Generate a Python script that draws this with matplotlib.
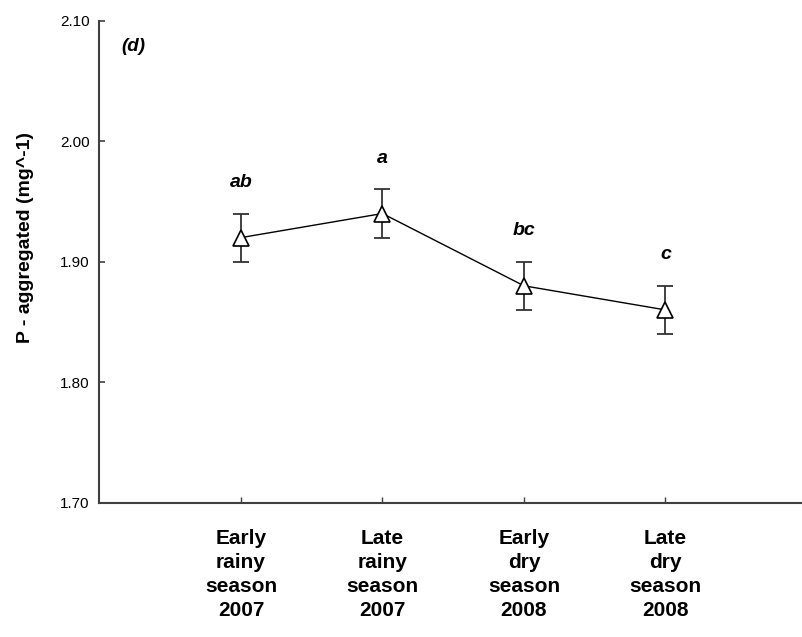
import numpy as np
import matplotlib.pyplot as plt

plt.rcParams['font.family'] = ['Liberation Sans', 'DejaVu Sans']

seasons = ['Early\nrainy\nseason\n2007', 'Late\nrainy\nseason\n2007',
           'Early\ndry\nseason\n2008', 'Late\ndry\nseason\n2008']
p_mean = [1.92, 1.94, 1.88, 1.86]
p_err = [0.02, 0.02, 0.02, 0.02]
groups = ['ab', 'a', 'bc', 'c']

fig = plt.figure(figsize=(8.03, 6.37), dpi=100)
ax = fig.add_axes([0.1239, 0.2108, 0.881, 0.7567])

x = np.arange(1, len(seasons) + 1)

ax.errorbar(x, p_mean, yerr=p_err, fmt='none', ecolor='#333333',
            elinewidth=1.3, capsize=5.5, capthick=1.3, zorder=2)
ax.plot(x, p_mean, color='black', linewidth=1.0, zorder=3)
ax.plot(x, p_mean, linestyle='none', marker='^', markersize=11,
        markerfacecolor='white', markeredgecolor='black',
        markeredgewidth=1.2, zorder=4)

# significance letters above each error bar
for xi, m, e, g in zip(x, p_mean, p_err, groups):
    ax.text(xi, m + e + 0.022, g, ha='center', va='baseline',
            fontsize=14, fontweight='bold', fontstyle='italic')

ax.text(0.24, 2.079, '(d)', ha='center', va='center',
        fontsize=13.5, fontweight='bold', fontstyle='italic')

ax.set_xlim(0, 5)
ax.set_ylim(1.70, 2.10)
ax.set_xticks(x)
ax.set_xticklabels(seasons, fontsize=15, fontweight='bold', linespacing=1.32)
ax.set_yticks([1.70, 1.80, 1.90, 2.00, 2.10])
ax.set_yticklabels(['1.70', '1.80', '1.90', '2.00', '2.10'], fontsize=11)

ax.tick_params(axis='x', direction='in', length=4, width=1, color='#404040', pad=19)
ax.tick_params(axis='y', direction='in', length=4.5, width=1.2, color='#404040', pad=7)

ax.set_ylabel('P - aggregated (mg^-1)', fontsize=14, fontweight='bold')
ax.yaxis.set_label_coords(-0.093, 0.55)

for side in ['top', 'right']:
    ax.spines[side].set_visible(False)
for side in ['left', 'bottom']:
    ax.spines[side].set_color('#404040')
    ax.spines[side].set_linewidth(1.5)

plt.savefig('out.png', dpi=100)
